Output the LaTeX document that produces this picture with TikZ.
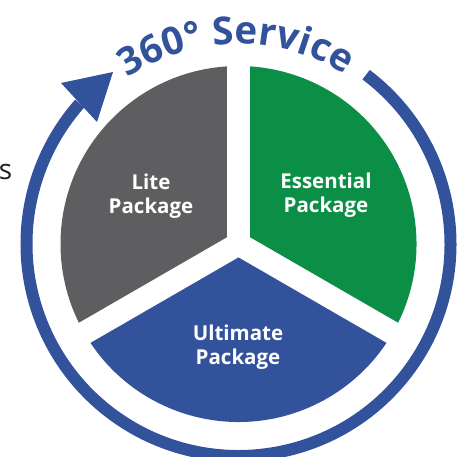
\documentclass[tikz,border=0pt]{standalone}
\usepackage{fontspec}
\setmainfont{Open Sans}
\usetikzlibrary{calc,decorations.text}
\definecolor{svcblue}{HTML}{32529B}
\definecolor{litegray}{HTML}{5E5D5F}
\definecolor{essgreen}{HTML}{0B8F47}
\definecolor{inkdark}{HTML}{231F20}
\tikzset{
  sector/.style={draw=none},
  gapline/.style={draw=white, line width=23pt},
  ringline/.style={draw=svcblue, line width=12pt, line cap=butt},
  pkglabel/.style={text=white, font=\bfseries\fontsize{20.5}{24}\selectfont, align=center},
}
\begin{document}
\begin{tikzpicture}[x=1pt,y=1pt]
\useasboundingbox (0,0) rectangle (464,-457);
\clip (0,0) rectangle (464,-457);
\coordinate (C) at (238.5,-244);
% sectors
\fill[litegray] (C) -- ++(90:178) arc[start angle=90, end angle=210, radius=178] -- cycle;
\fill[essgreen] (C) -- ++(-30:178) arc[start angle=-30, end angle=90, radius=178] -- cycle;
\fill[svcblue] (C) -- ++(210:178) arc[start angle=210, end angle=330, radius=178] -- cycle;
% gaps
\draw[gapline] (C) -- ++(90:190);
\draw[gapline] (C) -- ++(210:190);
\draw[gapline] (C) -- ++(-30:190);
% ring arrow
\draw[ringline] ($(C)+(53:212)$) arc[start angle=53, end angle=-221.5, radius=212];
\coordinate (tip) at (113,-72);
\coordinate (hl) at (61,-83);
\coordinate (hr) at (97,-122);
\fill[svcblue] (hl) -- (tip) -- (hr) -- cycle;
% title along arc
\path[decorate, decoration={text along path, text align=center,
  text={|\bfseries\fontsize{38.5}{42}\selectfont\color{svcblue}|360° Service}}]
  ($(C)+(150:200)$) arc[start angle=150, end angle=31.5, radius=200];
% labels
\node[pkglabel] (lite) at (151,-196) {Lite\\Package};
\node[pkglabel] (ess) at (326,-195) {Essential\\Package};
\node[pkglabel] (ult) at (238,-347) {Ultimate\\Package};
\node[anchor=east, text=inkdark, font=\fontsize{28}{30}\selectfont, inner sep=0pt] (s) at (12.5,-172) {s};
\end{tikzpicture}
\end{document}
